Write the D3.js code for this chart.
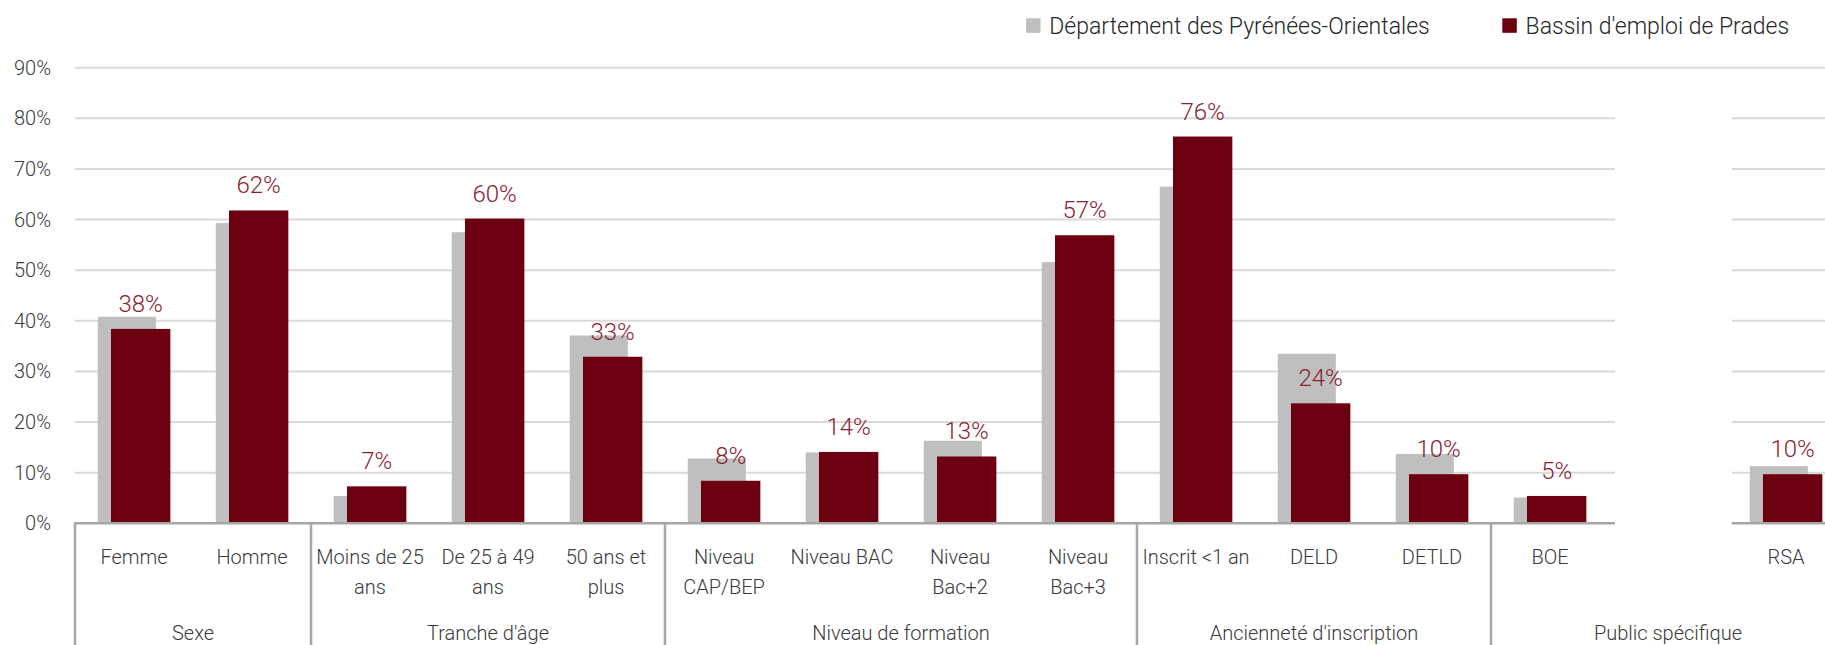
<!DOCTYPE html>
<html>
<head>
<meta charset="utf-8">
<script src="https://cdn.jsdelivr.net/npm/d3@7/dist/d3.min.js"></script>
<style>
  body { margin: 0; background: #fff; }
  svg text { font-family: Roboto, "Liberation Sans", Arial, sans-serif; font-weight: 300; }
</style>
</head>
<body>
<svg id="chart" width="1825" height="645"></svg>
<script>
// ---- Data ----
const categories = ["Femme", "Homme", "Moins de 25 ans", "De 25 à 49 ans", "50 ans et plus",
  "Niveau CAP/BEP", "Niveau BAC", "Niveau Bac+2", "Niveau Bac+3",
  "Inscrit <1 an", "DELD", "DETLD", "BOE", "", "RSA"];
const categoryLines = [["Femme"], ["Homme"], ["Moins de 25", "ans"], ["De 25 à 49", "ans"], ["50 ans et", "plus"],
  ["Niveau", "CAP/BEP"], ["Niveau BAC"], ["Niveau", "Bac+2"], ["Niveau", "Bac+3"],
  ["Inscrit <1 an"], ["DELD"], ["DETLD"], ["BOE"], [""], ["RSA"]];
const groupNames = ["Sexe", "Tranche d'âge", "Niveau de formation", "Ancienneté d'inscription", "Public spécifique"];
const groupSizes = [2, 3, 4, 3, 3];
const seriesNames = ["Département des Pyrénées-Orientales", "Bassin d'emploi de Prades"];
const departement = [40.8, 59.3, 5.4, 57.5, 37.1, 12.8, 14.0, 16.3, 51.6, 66.5, 33.5, 13.7, 5.1, null, 11.3];
const prades = [38.4, 61.8, 7.3, 60.2, 32.9, 8.4, 14.1, 13.2, 56.9, 76.4, 23.7, 9.7, 5.4, null, 9.7];
const yTicks = [0, 10, 20, 30, 40, 50, 60, 70, 80, 90];

// ---- Styles ----
const colGray = "#bfbfbf", colDark = "#6d0010", colLabel = "#8b2232", colText = "#3a3a3a";
const colGrid = "#d9d9d9", colAxis = "#a6a6a6";

const svg = d3.select("#chart");
const left = 75, slot = 118, W = 1825;
const x = d3.scaleBand().domain(d3.range(categories.length)).range([left, left + slot * categories.length]).padding(0);
const y = d3.scaleLinear().domain([0, 90]).range([523.3, 67.7]);
const bw = x.bandwidth();
const cx = i => x(i) + bw / 2;
const xEnd = left + slot * categories.length;

// gap (blank slot) in gridlines / axis
const gapStart = x(13) + bw * 0.05, gapEnd = x(14) + bw * 0.04;

// gridlines
const grid = svg.append("g");
yTicks.filter(t => t > 0).forEach(t => {
  const segs = t >= 90 ? [[left, xEnd]] : [[left, gapStart], [gapEnd, xEnd]];
  segs.forEach(s => grid.append("line")
    .attr("x1", s[0]).attr("x2", s[1]).attr("y1", y(t)).attr("y2", y(t))
    .attr("stroke", colGrid).attr("stroke-width", 2));
});

// y axis labels
svg.append("g").selectAll("text").data(yTicks).join("text")
  .attr("x", 51).attr("y", d => y(d)).attr("dy", "0.35em")
  .attr("text-anchor", "end").attr("font-size", 20).attr("fill", colText)
  .text(d => d + "%");

// bars
const idx = d3.range(categories.length).filter(i => departement[i] != null);
svg.append("g").selectAll("rect").data(idx).join("rect")
  .attr("x", i => cx(i) - bw * 0.307).attr("width", bw * 0.492)
  .attr("y", i => y(departement[i])).attr("height", i => y(0) - y(departement[i]))
  .attr("fill", colGray);
svg.append("g").selectAll("rect").data(idx).join("rect")
  .attr("x", i => cx(i) - bw * 0.195).attr("width", bw * 0.503)
  .attr("y", i => y(prades[i])).attr("height", i => y(0) - y(prades[i]))
  .attr("fill", colDark);

// value labels
svg.append("g").selectAll("text").data(idx).join("text")
  .attr("x", i => cx(i) - bw * 0.195 + bw * 0.2515)
  .attr("y", i => y(prades[i]) - 17)
  .attr("text-anchor", "middle").attr("font-size", 24).attr("fill", colLabel)
  .text(i => Math.round(prades[i]) + "%");

// x axis line
[[left, gapStart], [gapEnd, xEnd]].forEach(s => svg.append("line")
  .attr("x1", s[0]).attr("x2", s[1]).attr("y1", y(0)).attr("y2", y(0))
  .attr("stroke", colAxis).attr("stroke-width", 2.5));

// group dividers
let acc = 0;
const bounds = [0];
groupSizes.forEach(n => { acc += n; bounds.push(acc); });
svg.append("g").selectAll("line").data(bounds).join("line")
  .attr("x1", b => left + b * slot).attr("x2", b => left + b * slot)
  .attr("y1", y(0) - 1).attr("y2", 645)
  .attr("stroke", colAxis).attr("stroke-width", 2.5);

// category labels
const catG = svg.append("g");
categoryLines.forEach((lines, i) => {
  lines.forEach((ln, k) => catG.append("text")
    .attr("x", cx(i)).attr("y", 564 + k * 29.5)
    .attr("text-anchor", "middle").attr("font-size", 20).attr("fill", colText)
    .text(ln));
});

// group labels
svg.append("g").selectAll("text").data(groupNames).join("text")
  .attr("x", (d, g) => left + (bounds[g] + bounds[g + 1]) / 2 * slot)
  .attr("y", 640).attr("text-anchor", "middle").attr("font-size", 20).attr("fill", colText)
  .text(d => d);

// legend
const legend = [
  { name: seriesNames[0], color: colGray, mx: 1026 },
  { name: seriesNames[1], color: colDark, mx: 1502.3 }
];
const lg = svg.append("g");
legend.forEach(l => {
  lg.append("rect").attr("x", l.mx).attr("y", 18.3).attr("width", 14.5).attr("height", 14.5).attr("fill", l.color);
  lg.append("text").attr("x", l.mx + 23.3).attr("y", 33.5).attr("font-size", 23).attr("fill", "#262626").text(l.name);
});
</script>
</body>
</html>
